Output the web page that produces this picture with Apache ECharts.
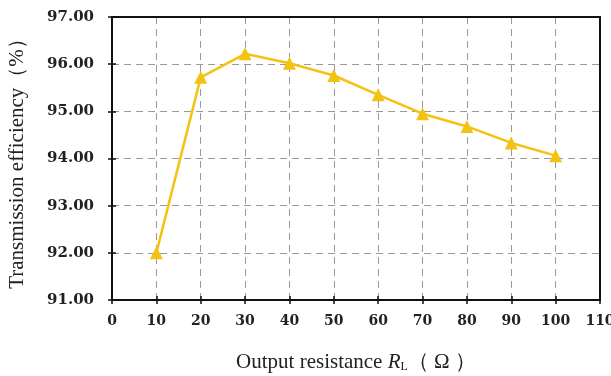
<!DOCTYPE html>
<html><head><meta charset="utf-8">
<script src="https://cdn.jsdelivr.net/npm/echarts@6/dist/echarts.min.js"></script>
<style>html,body{margin:0;padding:0;background:#fff}#c{width:611px;height:376px}</style>
</head><body><div id="c"></div>
<script>
const resistance = [10, 20, 30, 40, 50, 60, 70, 80, 90, 100];
const efficiency = [92.00, 95.72, 96.22, 96.02, 95.76, 95.35, 94.95, 94.68, 94.33, 94.06];
const yTickLabels = ['91.00','92.00','93.00','94.00','95.00','96.00','97.00'];

const chart = echarts.init(document.getElementById('c'));
const tickFont = {fontFamily:'DejaVu Serif', fontWeight:'bold', color:'#222'};
const gridLine = {show:true, lineStyle:{color:'#9a9a9a', type:[7,5], width:1}};
const frame = {show:true, onZero:false, lineStyle:{color:'#111', width:2}};
chart.setOption({
  animation:false,
  backgroundColor:'#fff',
  grid:{left:112, right:11, top:17, bottom:76, outerBoundsMode:'none', containLabel:false},
  xAxis:[{
    type:'value', min:0, max:110, interval:10,
    axisLine:frame,
    axisTick:{show:true, length:4, lineStyle:{color:'#111', width:1.5}},
    axisLabel:Object.assign({fontSize:14, margin:14}, tickFont),
    splitLine:gridLine,
    name:'{t|Output resistance }{i|R}{s|L}{t|（ Ω ）}',
    nameLocation:'middle', nameGap:52,
    nameTextStyle:{rich:{
      t:{fontFamily:'Liberation Serif', fontSize:21, color:'#222'},
      i:{fontFamily:'Liberation Serif', fontStyle:'italic', fontSize:21, color:'#222'},
      s:{fontFamily:'Liberation Serif', fontSize:12, color:'#222', verticalAlign:'bottom', padding:[8,0,0,0]}
    }}
  },{
    type:'value', min:0, max:110, interval:10, position:'bottom',
    axisLine:{show:false}, axisLabel:{show:false}, splitLine:{show:false},
    axisTick:{show:true, inside:true, length:4, lineStyle:{color:'#111', width:1.5}}
  },{
    type:'value', min:0, max:110, interval:10, position:'top',
    axisLine:frame, axisLabel:{show:false}, splitLine:{show:false}, axisTick:{show:false}
  }],
  yAxis:[{
    type:'value', min:91, max:97, interval:1,
    axisLine:frame,
    axisTick:{show:true, length:4, lineStyle:{color:'#111', width:1.5}},
    axisLabel:Object.assign({fontSize:15, margin:18, formatter:(v)=>yTickLabels[Math.round(v-91)]}, tickFont),
    splitLine:gridLine,
    name:'Transmission efficiency（%）',
    nameLocation:'middle', nameGap:84,
    nameTextStyle:{fontFamily:'Liberation Serif', fontSize:21, color:'#222'}
  },{
    type:'value', min:91, max:97, interval:1, position:'left',
    axisLine:{show:false}, axisLabel:{show:false}, splitLine:{show:false},
    axisTick:{show:true, inside:true, length:4, lineStyle:{color:'#111', width:1.5}}
  },{
    type:'value', min:91, max:97, interval:1, position:'right',
    axisLine:frame, axisLabel:{show:false}, splitLine:{show:false}, axisTick:{show:false}
  }],
  series:[{
    type:'line',
    data:resistance.map((x,i)=>[x, efficiency[i]]),
    symbol:'triangle', symbolSize:13,
    lineStyle:{color:'#F3C213', width:2.5},
    itemStyle:{color:'#F3C213'}
  }]
});
</script></body></html>
